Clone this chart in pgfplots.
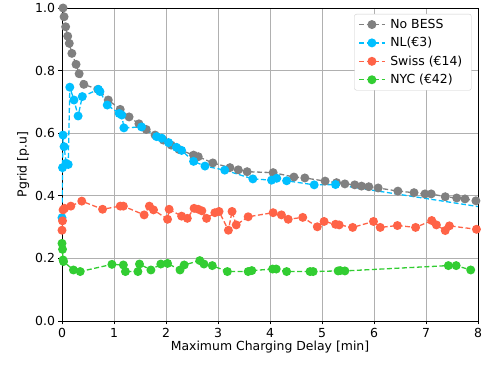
\documentclass[border=0pt]{standalone}
\usepackage{fontspec}
\setmainfont{DejaVu Sans}
\usepackage{pgfplots}
\pgfplotsset{compat=1.18}
\definecolor{cgray}{HTML}{808080}
\definecolor{cblue}{HTML}{00BFFF}
\definecolor{cred}{HTML}{FF6347}
\definecolor{cgreen}{HTML}{32CD32}
\begin{document}
\begin{tikzpicture}
\path[use as bounding box] (-62bp,-45bp) rectangle (422bp,321bp);
\begin{axis}[
  at={(0,0)}, anchor=south west,
  scale only axis, width=416bp, height=313bp,
  xmin=0, xmax=8, ymin=0, ymax=1,
  xtick={0,1,2,3,4,5,6,7,8},
  ytick={0,0.2,0.4,0.6,0.8,1.0},
  yticklabel style={/pgf/number format/.cd,fixed,fixed zerofill,precision=1},
  /pgf/number format/assume math mode=true,
  tick label style={font=\fontsize{12.5}{15}\selectfont},
  label style={font=\fontsize{12.5}{15}\selectfont},
  grid=major,
  major grid style={color=black!31, line width=0.8bp},
  tick align=outside, major tick length=3.5bp, tick pos=left,
  axis line style={line width=0.8bp},
  every tick/.style={black, line width=0.8bp},
  xlabel={Maximum Charging Delay [min]},
  ylabel={Pgrid [p.u]},
  xlabel style={yshift=3bp},
  ylabel style={yshift=-1bp},
  every axis plot/.append style={line width=1.3bp, dash pattern=on 5bp off 2.5bp, mark=*, mark size=3.8bp, mark options={solid}},
  legend style={at={(rel axis cs:1,1)}, xshift=-6.5bp, yshift=-6bp, anchor=north east, draw=black!20, rounded corners=2bp, fill=white, font=\fontsize{12.5}{15}\selectfont, row sep=3.5bp, inner xsep=4bp, inner ysep=3bp, nodes={inner xsep=5bp}},
  legend cell align=left,
  legend image code/.code={\draw[mark repeat=2,mark phase=2] plot coordinates {(0cm,0cm) (0.45cm,0cm) (0.9cm,0cm)};},
]
\addplot[color=cgray] coordinates {
(0.02,1.00) (0.04,0.972) (0.07,0.94) (0.11,0.91) (0.14,0.887) (0.19,0.855) (0.27,0.82) (0.33,0.79) (0.42,0.756) (0.69,0.74) (0.89,0.706) (1.12,0.676) (1.29,0.652) (1.48,0.63) (1.62,0.612) (1.79,0.594) (1.95,0.578) (2.1,0.562) (2.25,0.548) (2.53,0.53) (2.62,0.525) (2.9,0.505) (3.23,0.49) (3.39,0.483) (3.56,0.477) (4.06,0.474) (4.46,0.46) (4.67,0.457) (5.06,0.447) (5.28,0.442) (5.44,0.438) (5.63,0.435) (5.76,0.431) (5.9,0.429) (6.08,0.425) (6.46,0.415) (6.77,0.41) (6.98,0.406) (7.1,0.406) (7.37,0.397) (7.59,0.393) (7.75,0.39) (7.96,0.384)
};
\addlegendentry{No BESS}
\addplot[color=cblue] coordinates {
(0.0,0.33) (0.01,0.49) (0.02,0.594) (0.04,0.557) (0.08,0.504) (0.12,0.50) (0.15,0.747) (0.23,0.706) (0.31,0.655) (0.39,0.717) (0.70,0.74) (0.73,0.733) (0.87,0.69) (1.10,0.663) (1.15,0.658) (1.19,0.617) (1.53,0.62) (1.82,0.589) (1.92,0.584) (2.05,0.57) (2.2,0.555) (2.3,0.545) (2.53,0.51) (2.75,0.495) (3.13,0.482) (3.67,0.454) (4.03,0.45) (4.13,0.456) (4.32,0.448) (4.85,0.435) (5.26,0.436) (9.0,0.340)
};
\addlegendentry{NL(€3)}
\addplot[color=cred] coordinates {
(0.00,0.29) (0.01,0.32) (0.02,0.355) (0.05,0.36) (0.17,0.367) (0.38,0.383) (0.78,0.357) (1.12,0.367) (1.18,0.367) (1.58,0.339) (1.68,0.367) (1.76,0.355) (2.03,0.325) (2.06,0.357) (2.30,0.335) (2.41,0.328) (2.54,0.36) (2.62,0.357) (2.69,0.352) (2.78,0.328) (2.94,0.346) (3.02,0.35) (3.20,0.29) (3.27,0.35) (3.35,0.307) (3.58,0.333) (4.06,0.346) (4.22,0.339) (4.35,0.325) (4.63,0.331) (4.91,0.301) (5.04,0.318) (5.26,0.309) (5.33,0.307) (5.59,0.299) (5.99,0.318) (6.12,0.299) (6.45,0.305) (6.80,0.299) (7.11,0.321) (7.20,0.307) (7.37,0.289) (7.45,0.304) (7.97,0.293)
};
\addlegendentry{Swiss (€14)}
\addplot[color=cgreen] coordinates {
(0.00,0.248) (0.01,0.229) (0.02,0.195) (0.03,0.19) (0.22,0.163) (0.35,0.158) (0.96,0.181) (1.18,0.179) (1.22,0.158) (1.46,0.158) (1.49,0.182) (1.71,0.163) (1.90,0.182) (2.03,0.184) (2.27,0.163) (2.35,0.179) (2.65,0.193) (2.73,0.182) (2.89,0.177) (3.18,0.158) (3.58,0.158) (3.65,0.161) (4.05,0.166) (4.12,0.166) (4.32,0.158) (4.77,0.158) (4.83,0.158) (5.31,0.16) (5.35,0.161) (5.44,0.16) (7.43,0.177) (7.58,0.177) (7.86,0.163)
};
\addlegendentry{NYC (€42)}
\end{axis}
\end{tikzpicture}
\end{document}
